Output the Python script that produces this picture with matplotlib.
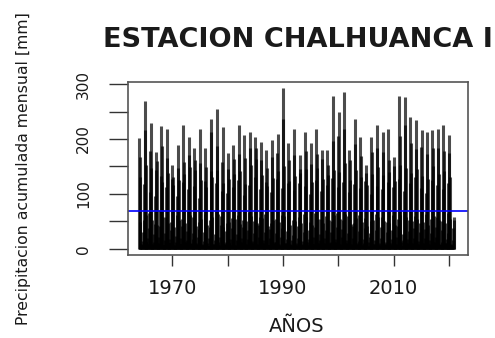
import numpy as np
import matplotlib
matplotlib.use("Agg")
import matplotlib.pyplot as plt

# Monthly precipitation [mm], one value per year 1964-2020 for each month
years = np.arange(1964, 2021)
jan = [202, 269, 178, 143, 224, 165, 152, 147, 226, 171, 183, 157, 183, 213, 255, 159, 175, 189, 172, 207,
       184, 204, 161, 180, 198, 174, 237, 192, 171, 171, 213, 155, 219, 164, 180, 279, 206, 285, 180, 191,
       204, 153, 204, 225, 176, 219, 168, 279, 226, 240, 234, 186, 213, 216, 219, 225, 208]
feb = [168, 216, 230, 176, 187, 219, 131, 190, 158, 204, 162, 218, 149, 237, 188, 222, 146, 163, 225, 166,
       213, 183, 195, 148, 167, 210, 293, 161, 219, 145, 178, 192, 172, 180, 152, 196, 249, 218, 162, 237,
       169, 138, 177, 183, 213, 162, 151, 205, 277, 193, 181, 216, 172, 184, 183, 179, 174]
mar = [131, 152, 147, 160, 121, 138, 117, 125, 136, 149, 144, 126, 112, 131, 143, 119, 128, 137, 141, 118,
       152, 163, 134, 115, 129, 142, 150, 124, 133, 138, 146, 121, 148, 127, 135, 144, 139, 157, 126, 143,
       130, 116, 137, 149, 134, 140, 123, 153, 147, 138, 145, 132, 127, 151, 136, 142, 131]
apr = [48, 61, 52, 44, 58, 47, 39, 53, 46, 62, 41, 55, 43, 57, 64, 40, 49, 54, 45, 51,
       60, 47, 56, 42, 53, 48, 59, 44, 50, 46, 57, 43, 54, 47, 52, 61, 55, 63, 45, 56,
       48, 41, 53, 58, 50, 46, 44, 62, 57, 51, 55, 49, 43, 60, 52, 47, 54]
may = [9, 12, 8, 11, 7, 10, 6, 9, 13, 8, 10, 7, 11, 9, 12, 8, 10, 7, 13, 9,
       11, 8, 10, 7, 12, 9, 11, 8, 10, 7, 13, 9, 11, 8, 10, 12, 9, 11, 8, 10,
       7, 12, 9, 11, 8, 10, 7, 13, 9, 11, 8, 10, 7, 12, 9, 11, 8]
jun = [3, 4, 2, 5, 3, 4, 2, 3, 5, 3, 4, 2, 5, 3, 4, 2, 3, 4, 5, 3,
       4, 2, 5, 3, 4, 3, 5, 2, 4, 3, 5, 2, 4, 3, 5, 3, 4, 2, 3, 5,
       3, 4, 2, 5, 3, 4, 2, 5, 3, 4, 2, 5, 3, 4, 2, 5, 3]
jul = [2, 3, 4, 3, 2, 5, 3, 2, 4, 3, 2, 5, 3, 2, 4, 3, 2, 5, 3, 2,
       4, 3, 2, 5, 3, 2, 4, 3, 2, 5, 3, 2, 4, 3, 2, 4, 3, 5, 2, 3,
       4, 2, 3, 5, 2, 3, 4, 3, 2, 5, 3, 2, 4, 3, 2, 4, 3]
aug = [6, 8, 5, 9, 7, 11, 4, 8, 6, 10, 7, 9, 5, 8, 6, 9, 7, 5, 10, 6,
       8, 7, 9, 6, 8, 5, 10, 7, 6, 9, 6, 8, 5, 10, 7, 8, 6, 9, 7, 6,
       10, 5, 8, 7, 9, 6, 8, 5, 10, 7, 6, 9, 8, 5, 7, 10, 6]
sep = [14, 19, 12, 21, 16, 18, 13, 20, 15, 17, 22, 14, 19, 16, 21, 13, 18, 15, 20, 17,
       14, 22, 16, 19, 13, 21, 18, 15, 20, 14, 17, 22, 16, 19, 13, 18, 21, 15, 20, 14,
       17, 22, 16, 19, 13, 18, 21, 15, 17, 20, 14, 19, 16, 22, 13, 18, 15]
oct_ = [31, 38, 27, 42, 29, 35, 24, 41, 33, 28, 36, 30, 39, 27, 44, 32, 37, 26, 40, 34,
        29, 43, 31, 36, 28, 38, 33, 25, 42, 30, 35, 39, 27, 34, 31, 40, 36, 29, 41, 32,
        37, 28, 34, 39, 30, 35, 42, 27, 33, 38, 31, 36, 29, 40, 34, 28, 37]
nov = [52, 66, 45, 71, 58, 49, 61, 54, 68, 57, 48, 63, 52, 70, 59, 47, 56, 62, 53, 67,
       50, 58, 64, 46, 55, 61, 69, 52, 57, 63, 48, 66, 54, 59, 50, 65, 53, 60, 47, 62,
       56, 51, 64, 57, 49, 61, 55, 68, 52, 59, 47, 63, 54, 58, 50, 66, 53]
dec = [118, 104, 96, 132, 112, 128, 97, 121, 108, 115, 93, 124, 141, 119, 106, 101, 113, 125, 98, 116,
       131, 109, 122, 103, 127, 111, 119, 107, 120, 114, 99, 126, 105, 117, 129, 112, 121, 104, 118, 110,
       124, 100, 115, 109, 122, 113, 127, 106, 119, 130, 111, 102, 125, 116, 108, 120, 57]

x_ticks = [1970, 1980, 1990, 2000, 2010, 2020]
x_labels = ["1970", "", "1990", "", "2010", ""]
y_ticks = [0, 50, 100, 150, 200, 250, 300]
y_labels = ["0", "", "100", "", "200", "", "300"]

precip = np.column_stack([jan, feb, mar, apr, may, jun, jul, aug, sep, oct_, nov, dec]).ravel()
t = (years[:, None] + np.arange(12)[None, :] / 12.0).ravel()

fig = plt.figure(figsize=(4.95, 3.38), dpi=100)
ax = fig.add_axes([128 / 495, 1 - 255 / 338, 340 / 495, 173 / 338])

ax.vlines(t, 0, precip, colors="black", linewidth=2.2, alpha=0.7)
ax.axhline(np.mean(precip), color="#0000ff", linewidth=1.2)

ax.set_xlim(1962.0, 2023.45)
ax.set_ylim(-11.5, 304)
ax.set_xticks(x_ticks)
ax.set_xticklabels(x_labels)
ax.set_yticks(y_ticks)
ax.set_yticklabels(y_labels)

ax.tick_params(axis="x", length=8, width=1.0, color="#333333", pad=9, labelsize=14, labelcolor="#1a1a1a")
ax.tick_params(axis="y", length=13.7, width=1.0, color="#333333", pad=13, labelsize=11,
               labelcolor="#1a1a1a", labelrotation=90)
for lab in ax.get_yticklabels():
    lab.set_va("center")

for sp in ax.spines.values():
    sp.set_color("#555555")
    sp.set_linewidth(1.2)

fig.text(298 / 495, 1 - 40 / 338, "ESTACION CHALHUANCA I", ha="center", va="center",
         fontsize=19.5, fontweight="bold", color="#1a1a1a")
fig.text(24 / 495, 1 - 168.5 / 338, "Precipitacion acumulada mensual [mm]", rotation=90,
         ha="center", va="center", fontsize=11.3, color="#1a1a1a")
fig.text(297 / 495, 1 - 327 / 338, "AÑOS", ha="center", va="center", fontsize=14, color="#1a1a1a")

fig.savefig("out.png", dpi=100)
